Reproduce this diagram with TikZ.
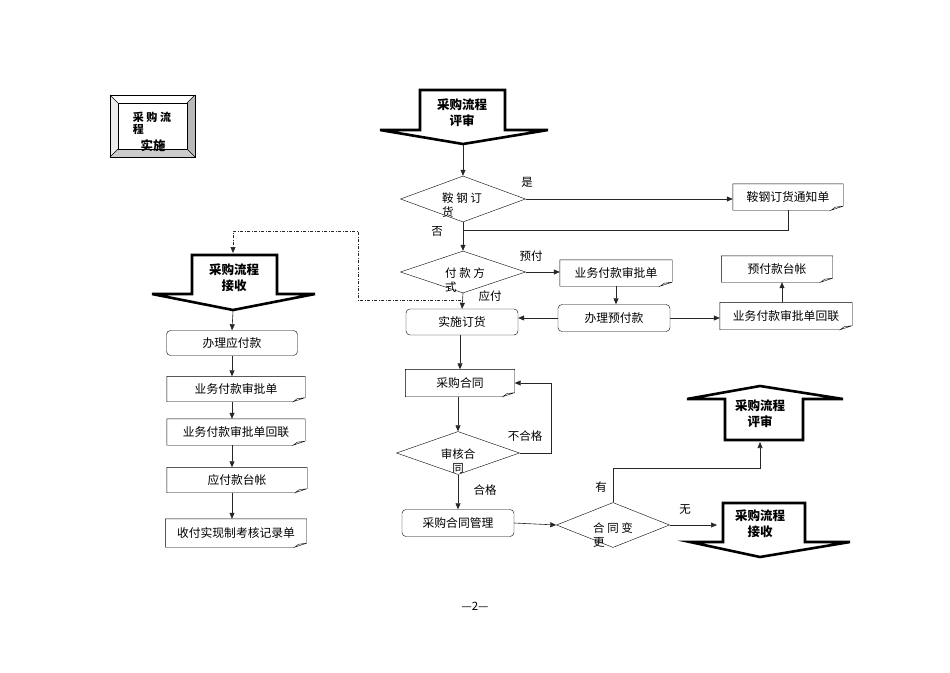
\documentclass[tikz,border=0pt]{standalone}
\usepackage{fontspec}
\setmainfont{Noto Sans CJK SC}
\usetikzlibrary{arrows.meta,shapes.geometric}

\newcommand\boxfont{\fontsize{11.8}{13}\selectfont}

\tikzset{
  procbox/.style={draw, rounded corners=4pt, inner sep=0pt, minimum height=26pt, font=\boxfont},
  notebox/.style={inner sep=0pt, minimum height=26pt, font=\boxfont},
  choice/.style={diamond, draw, inner sep=0pt},
  choicetext/.style={inner sep=0pt, align=left, font=\fontsize{11.5}{14}\selectfont},
  flowline/.style={draw=black!85, line width=0.6pt},
  flowarrow/.style={flowline, -{Triangle[length=6pt,width=5pt]}},
  jumpline/.style={flowarrow, dash pattern=on 3pt off 1.5pt on 1pt off 1.5pt},
  blockarrow/.style={draw, line width=2.6pt, line join=miter},
  blocklabel/.style={inner sep=0pt, align=center, font=\bfseries\fontsize{12.5}{16}\selectfont},
  titletext/.style={inner sep=0pt, font=\bfseries\fontsize{11}{12}\selectfont},
  tag/.style={inner sep=1pt, font=\fontsize{11.5}{13}\selectfont},
}

\begin{document}
\begin{tikzpicture}[x=1pt,y=-1pt]

\path [use as bounding box] (0,0) rectangle (950,672);

% TITLE PLATE
\fill [white] (110,95) -- (195,95) -- (187,103) -- (118,103) -- cycle;
\fill [gray!15] (110,95) -- (118,103) -- (118,149) -- (110,157) -- cycle;
\fill [gray!55] (195,95) -- (195,157) -- (187,149) -- (187,103) -- cycle;
\fill [gray!40] (110,157) -- (195,157) -- (187,149) -- (118,149) -- cycle;
\draw (110,95) rectangle (195,157) (118,103) rectangle (187,149);
\draw (110,95) -- (118,103) (195,95) -- (187,103) (110,157) -- (118,149) (195,157) -- (187,149);
\node [titletext, align=left] (ttl) at (152,123) {采 购 流\\程};
\node [titletext, font=\bfseries\fontsize{12.5}{14}\selectfont] (ttlsub) at (153,146) {实施};

% BLOCK ARROWS
\draw [blockarrow] (420,90) -- (505,90) -- (505,130) -- (548,130) -- (463,144) -- (380,130) -- (420,130) -- cycle;
\node [blocklabel] (rev1) at (462,113) {采购流程\\评审};
\coordinate (rev1tip) at (463,145);

\draw [blockarrow] (192,255) -- (277,255) -- (277,294) -- (315,294) -- (233,310) -- (152,294) -- (192,294) -- cycle;
\node [blocklabel] (rcv1) at (234,278) {采购流程\\接收};
\coordinate (rcv1top) at (233,253);
\coordinate (rcv1tip) at (233,311);

\draw [blockarrow] (760,386) -- (843,399) -- (803,399) -- (803,440) -- (725,440) -- (725,399) -- (687,399) -- cycle;
\node [blocklabel] (rev2) at (760,414) {采购流程\\评审};
\coordinate (rev2base) at (760,442);

\draw [blockarrow] (723,503) -- (805,503) -- (805,542) -- (850,542) -- (760,557) -- (690,542) -- (723,542) -- cycle;
\node [blocklabel] (rcv2) at (760,524) {采购流程\\接收};
\coordinate (rcv2side) at (717,525);

% DECISIONS
\node [choice, minimum width=125pt, minimum height=46pt] (steel) at (463,199) {};
\node [choicetext] (steeltxt) at (462,205) {鞍 钢 订\\货};
\node [choice, minimum width=125pt, minimum height=42pt] (paymode) at (463,272) {};
\node [choicetext] (paymodetxt) at (465,280) {付 款 方\\式};
\node [choice, minimum width=123pt, minimum height=43pt] (check) at (458,453) {};
\node [choicetext, align=center] (checktxt) at (458,461) {审核合\\同};
\node [choice, minimum width=113pt, minimum height=45pt] (change) at (613,525) {};
\node [choicetext] (changetxt) at (613,535) {合 同 变\\更};

% BOXES
\node [procbox, minimum width=112pt] (order) at (462,322) {实施订货};
\node [procbox, minimum width=112pt, minimum height=27pt] (prepay) at (614,318) {办理预付款};
\node [procbox, minimum width=112pt, minimum height=27pt] (manage) at (458,523) {采购合同管理};
\node [procbox, minimum width=131pt, minimum height=25pt] (payable) at (232,343) {办理应付款};

% NOTES
\node [notebox, minimum width=110pt] (notice) at (788,197) {鞍钢订货通知单};
\node [notebox, minimum width=112pt] (apprA) at (616,273) {业务付款审批单};
\node [notebox, minimum width=111pt] (ledgerA) at (777,269) {预付款台帐};
\node [notebox, minimum width=132pt, minimum height=27pt] (stubA) at (786,316) {业务付款审批单回联};
\node [notebox, minimum width=109pt, minimum height=27pt] (contract) at (460,383) {采购合同};
\node [notebox, minimum width=138pt, minimum height=25pt] (apprB) at (236,389) {业务付款审批单};
\node [notebox, minimum width=138pt] (stubB) at (236,432) {业务付款审批单回联};
\node [notebox, minimum width=140pt, minimum height=25pt] (ledgerB) at (237,480) {应付款台帐};
\node [notebox, minimum width=141pt, minimum height=28pt] (record) at (236,533) {收付实现制考核记录单};

\foreach \nm in {notice,apprA,ledgerA,stubA,contract,apprB,stubB,ledgerB,record}
  \draw ([xshift=-12pt]\nm.south east) -- (\nm.south west) -- (\nm.north west) -- (\nm.north east)
    -- ([yshift=4pt]\nm.south east) -- ([xshift=-12pt]\nm.south east)
    -- ([xshift=-8pt,yshift=3pt]\nm.south east) -- ([yshift=4pt]\nm.south east);

% LABELS
\node [tag] (yes) at (527,182) {是};
\node [tag] (no) at (437,231) {否};
\node [tag] (pre) at (531,256) {预付};
\node [tag] (due) at (490,296) {应付};
\node [tag] (fail) at (525,436) {不合格};
\node [tag] (pass) at (485,490) {合格};
\node [tag] (have) at (601,487) {有};
\node [tag] (none) at (685,510) {无};
\node [tag] (page) at (475,606) {—2—};

% CONNECTORS
\coordinate (join) at (463,230);
\coordinate (split) at (461,300);
\draw [flowarrow] (rev1tip) -- (steel.north);
\draw [flowarrow] (steel.east) -- (steel.east -| notice.west);
\draw [flowline] (notice.south) |- (join);
\draw [flowarrow] (steel.south) -- (paymode.north);
\draw [flowarrow] (paymode.east) -- (paymode.east -| apprA.west);
\draw [flowarrow] (paymode.south) -- (order.north);
\draw [flowarrow] (apprA.south) -- (apprA.south |- prepay.north);
\draw [flowarrow] (prepay.west) -- (prepay.west -| order.east);
\draw [flowarrow] (prepay.east) -- (prepay.east -| stubA.west);
\draw [flowarrow] (stubA.north -| 782,0) -- (ledgerA.south -| 782,0);
\draw [flowarrow] (order.south -| contract.south) -- (contract.north);
\draw [flowarrow] (contract.south -| check.north) -- (check.north);
\draw [flowarrow] (check.east) -- ++(32,0) |- (contract.east);
\draw [flowarrow] (check.south) -- (manage.north);
\draw [flowarrow] (manage.east) -- (change.west);
\draw [flowarrow] (change.north) -- ++(0,-34) -| (rev2base);
\draw [flowarrow] (change.east) -- (rcv2side);
\draw [jumpline] (split) -| (358,231) -| (rcv1top);
\draw [flowarrow] (rcv1tip) -- (payable.north);
\draw [flowarrow] (payable.south) -- (payable.south |- apprB.north);
\draw [flowarrow] (apprB.south -| payable.south) -- (stubB.north -| payable.south);
\draw [flowarrow] (stubB.south -| payable.south) -- (ledgerB.north -| payable.south);
\draw [flowarrow] (ledgerB.south -| payable.south) -- (record.north -| payable.south);

\end{tikzpicture}
\end{document}
